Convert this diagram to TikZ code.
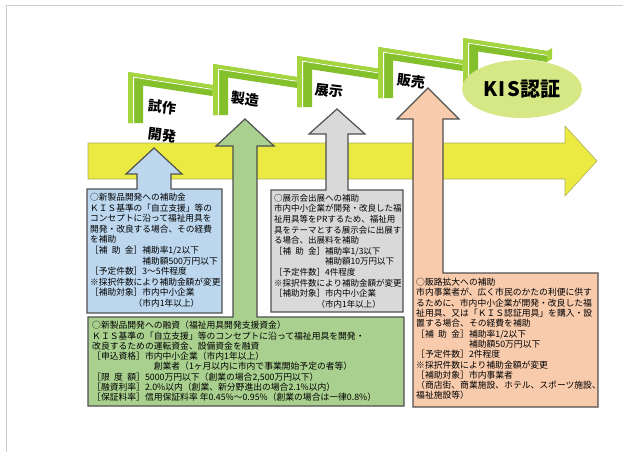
\documentclass[tikz,border=0pt]{standalone}
\usepackage{fontspec}
\usepackage{tikz}
\usetikzlibrary{shapes.geometric}

\newfontfamily\jp{Noto Sans CJK JP}
\newcommand{\kan}{\hspace{.5em}}

\definecolor{gelb}{RGB}{234,234,66}
\definecolor{gelbrand}{RGB}{175,175,95}
\definecolor{stufehell}{RGB}{164,212,62}
\definecolor{stufedunkel}{RGB}{132,192,44}
\definecolor{oval}{RGB}{214,231,134}
\definecolor{blau}{RGB}{189,215,238}
\definecolor{grau}{RGB}{217,217,217}
\definecolor{gruen}{RGB}{169,208,142}
\definecolor{lachs}{RGB}{248,203,173}
\definecolor{rahmen}{RGB}{80,80,80}
\definecolor{seite}{RGB}{205,205,205}

\begin{document}
\begin{tikzpicture}[x=1pt, y=-1pt,
        font=\jp,
        kasten/.style={draw=rahmen, line width=1.2pt},
        info/.style={anchor=north west, inner sep=0pt, align=left,
            font=\jp\fontsize{8.7}{10.6}\selectfont},
        stufe/.style={font=\jp\bfseries\fontsize{14}{16}\selectfont,
            inner sep=0pt, rotate=-7}
        ]
    \useasboundingbox (0,0) rectangle (623,452);

    % Seitenrand
    \draw[seite, line width=1pt] (6,452) -- (6,6) -- (623,6);

    % Zeitachse
    \draw[fill=gelb, draw=gelbrand, line width=0.6pt]
        (88,143) -- (565,143) -- (565,126) -- (597,161)
        -- (565,196) -- (565,179) -- (88,179) -- cycle;

    % Stufen
    \foreach \x/\y in {128/72, 213/64, 297/56, 378/47, 463/38} {
        \begin{scope}[shift={(\x,\y)}]
            \fill[stufedunkel] (0,0) -- (84,13) -- (84,24) -- (15,13.5)
                -- (15,51) -- (0,51) -- cycle;
            \fill[stufehell] (0,0) -- (84,13) -- (84,16.5) -- (5,4.5)
                -- (5,51) -- (0,51) -- cycle;
            \fill[stufehell] (84,13) -- (89,10) -- (89,21) -- (84,24) -- cycle;
            \draw[white, line width=0.8pt] (5.6,51) -- (5.6,5.2) -- (84,17.3);
        \end{scope}
    }

    % Kästen mit Pfeilen
    \draw[kasten, fill=blau] (87,189) -- (137,189) -- (137,174) -- (126,174)
        -- (154,148) -- (182,174) -- (171,174) -- (171,189) -- (222,189)
        -- (222,313) -- (87,313) -- cycle;
    \draw[kasten, fill=grau] (271,190) -- (326,190) -- (326,134) -- (309,134)
        -- (337,109) -- (365,134) -- (348,134) -- (348,190) -- (403,190)
        -- (403,312) -- (271,312) -- cycle;
    \draw[kasten, fill=gruen] (88,317) -- (233,317) -- (233,146) -- (216,146)
        -- (245,119) -- (274,146) -- (257,146) -- (257,317) -- (404,317)
        -- (404,406) -- (88,406) -- cycle;
    \draw[kasten, fill=lachs] (413,407) -- (413,119) -- (397,119) -- (428,88)
        -- (459,119) -- (443,119) -- (443,273) -- (598,273) -- (598,407)
        -- cycle;

    % Stufen beschriften
    \node[stufe] (shisaku) at (162,107) {試作};
    \node[stufe] (kaihatsu) at (162,135) {開発};
    \node[stufe] (seizo) at (245,99) {製造};
    \node[stufe] (tenji) at (329,91) {展示};
    \node[stufe] (hanbai) at (411,81) {販売};
    \node[ellipse, fill=oval, minimum width=100pt, minimum height=58pt,
        font=\jp\bfseries\fontsize{20}{22}\selectfont]
        (kis) at (522,89) {K\kern1.5pt I\kern1.5pt S\kern1pt 認証};

    % Texte
    \node[info] (neu) at (90,193) {%
        ○新製品開発への補助金\\
        ＫＩＳ基準の「自立支援」等の\\
        コンセプトに沿って福祉用具を\\
        開発・改良する場合、その経費\\
        を補助\\
        ［補\kan 助\kan 金］補助率1/2以下\\
        \phantom{［補\kan 助\kan 金］}補助額500万円以下\\
        ［予定件数］3～5件程度\\
        ※採択件数により補助金額が変更\\
        ［補助対象］市内中小企業\\
        \hspace*{5em}（市内1年以上）};

    \node[info, font=\jp\fontsize{8.5}{10.6}\selectfont] (messe) at (274,194) {%
        ○展示会出展への補助\\
        市内中小企業が開発・改良した福\\
        祉用具等をPRするため、福祉用\\
        具をテーマとする展示会に出展す\\
        る場合、出展料を補助\\
        ［補\kan 助\kan 金］補助率1/3以下\\
        \phantom{［補\kan 助\kan 金］}補助額10万円以下\\
        ［予定件数］4件程度\\
        ※採択件数により補助金額が変更\\
        ［補助対象］市内中小企業\\
        \hspace*{5em}（市内1年以上）};

    \node[info, font=\jp\fontsize{8.8}{10.3}\selectfont] (kredit) at (92,321) {%
        ○新製品開発への融資（福祉用具開発支援資金）\\
        ＫＩＳ基準の「自立支援」等のコンセプトに沿って福祉用具を開発・\\
        改良するための運転資金、設備資金を融資\\
        ［申込資格］市内中小企業（市内1年以上）\\
        \hspace*{7em}創業者（1ヶ月以内に市内で事業開始予定の者等）\\
        ［限\kan 度\kan 額］5000万円以下（創業の場合2,500万円以下）\\
        ［融資利率］2.0\%以内（創業、新分野進出の場合2.1\%以内）\\
        ［保証料率］信用保証料率 年0.45\%～0.95\%（創業の場合は一律0.8\%）};

    \node[info, font=\jp\fontsize{8.8}{10.3}\selectfont] (absatz) at (416,278) {%
        ○販路拡大への補助\\
        市内事業者が、広く市民のかたの利便に供す\\
        るために、市内中小企業が開発・改良した福\\
        祉用具、又は「ＫＩＳ認証用具」を購入・設\\
        置する場合、その経費を補助\\
        ［補\kan 助\kan 金］補助率1/2以下\\
        \phantom{［補\kan 助\kan 金］}補助額50万円以下\\
        ［予定件数］2件程度\\
        ※採択件数により補助金額が変更\\
        ［補助対象］市内事業者\\
        （商店街、商業施設、ホテル、スポーツ施設、\\
        福祉施設等）};
\end{tikzpicture}
\end{document}
